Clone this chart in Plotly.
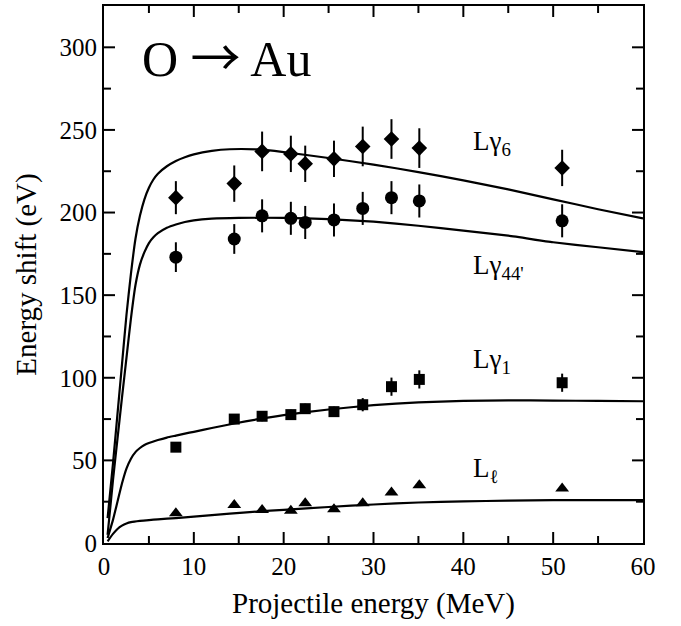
import plotly.graph_objects as go

# ---- measured data ----
energy = [8.0, 14.5, 17.6, 20.8, 22.4, 25.6, 28.8, 32.0, 35.1, 51.0]

lg6_y = [209, 217.5, 237, 235.5, 229.5, 232.5, 240, 244.5, 239, 227]
lg6_err = [10, 11, 12, 11, 11, 11, 12, 12, 12, 11]

lg44_y = [173, 184, 198, 196.5, 194, 195.5, 202.5, 209, 207, 195]
lg44_err = [9, 9, 10, 10, 10, 10, 10, 10, 10, 10]

lg1_y = [58, 75, 76.7, 77.7, 81.3, 79.5, 83.7, 94.6, 99, 97]
lg1_err = [2, 3, 3, 3, 3, 3, 4, 5.5, 5.5, 5.5]

ll_y = [18, 23, 20, 19.5, 24, 20.5, 24, 30.5, 35, 33]

# theory curves
th6_x = [0.4, 1, 1.5, 2, 2.5, 3, 3.5, 4, 4.5, 5, 5.5, 6, 7, 8, 9, 10, 12, 14, 17, 20, 25, 30, 35, 40, 45, 50, 55, 60]
th6_y = [15, 48, 78, 108, 138, 163, 184, 198, 208, 215, 220, 223.5, 228, 231.2, 233.5, 235.2, 237.3, 238.3, 238.2, 236.6, 233, 229, 224.5, 219.5, 214, 208, 202, 196.5]

th44_x = [0.4, 1, 1.5, 2, 2.5, 3, 3.5, 4, 4.5, 5, 5.5, 6, 7, 8, 9, 10, 12, 15, 20, 25, 30, 35, 40, 45, 50, 55, 60]
th44_y = [5, 38, 63, 88, 112, 136, 156, 168.5, 176, 181.5, 185, 187.5, 190.8, 192.8, 194.3, 195.3, 196.3, 196.8, 196.8, 196, 194.5, 192, 189, 186, 182, 179, 176]

th1_x = [0.4, 1, 1.5, 2, 2.5, 3, 3.5, 4, 4.5, 5, 6, 7, 8, 9, 10, 12, 14.5, 17, 20, 25, 30, 35, 40, 45, 50, 55, 60]
th1_y = [3, 14, 25, 36, 45, 51, 55, 57.5, 59.3, 60.5, 62.3, 63.8, 65, 66.2, 67.3, 69.6, 72.3, 74.8, 77.4, 80.8, 83.4, 85.1, 86, 86.3, 86.2, 86, 85.8]

thl_x = [0.4, 1, 1.5, 2, 2.5, 3, 4, 5, 6, 8, 10, 14, 17, 20, 25, 30, 35, 40, 45, 50, 55, 60]
thl_y = [1, 5.5, 8.5, 10.5, 11.8, 12.6, 13.4, 13.9, 14.3, 15.1, 16, 17.8, 19, 20.1, 21.8, 23.3, 24.5, 25.2, 25.6, 25.9, 26, 26]

# tick values
x_major = [10, 20, 30, 40, 50]
x_minor = [5, 15, 25, 35, 45, 55]
y_major = [50, 100, 150, 200, 250, 300]
y_minor = [25, 75, 125, 175, 225, 275]

FONT = "Liberation Serif, Times New Roman, Times, serif"

fig = go.Figure()

for xs, ys in [(th6_x, th6_y), (th44_x, th44_y), (th1_x, th1_y), (thl_x, thl_y)]:
    fig.add_trace(go.Scatter(x=xs, y=ys, mode="lines", line=dict(color="black", width=2.2),
                             line_shape="spline", line_smoothing=0.5,
                             hoverinfo="skip", showlegend=False))

def pts(y, err, symbol, size):
    eb = dict(type="data", array=err, visible=True, color="black", thickness=2, width=0) if err else None
    return go.Scatter(x=energy, y=y, mode="markers", showlegend=False,
                      marker=dict(symbol=symbol, size=size, color="black"),
                      error_y=eb)

fig.add_trace(pts(lg6_y, lg6_err, "diamond", 12))
fig.add_trace(pts(lg44_y, lg44_err, "circle", 13))
fig.add_trace(pts(lg1_y, lg1_err, "square", 11))
fig.add_trace(pts(ll_y, None, "triangle-up", 12))

ann_font = dict(family=FONT, size=27, color="black")
fig.add_annotation(x=4.0, y=296, showarrow=False, xanchor="left", yanchor="middle",
                   text="O <span style='font-family:Noto Sans CJK JP'>\u2192</span> Au",
                   font=dict(family=FONT, size=50, color="black"))
fig.add_annotation(x=40.9, y=242, text="L\u03b3<sub>6</sub>", showarrow=False, xanchor="left", yanchor="middle", font=ann_font)
fig.add_annotation(x=40.9, y=167, text="L\u03b3<sub>44'</sub>", showarrow=False, xanchor="left", yanchor="middle", font=ann_font)
fig.add_annotation(x=40.9, y=110, text="L\u03b3<sub>1</sub>", showarrow=False, xanchor="left", yanchor="middle", font=ann_font)
fig.add_annotation(x=40.9, y=44, text="L<sub>\u2113</sub>", showarrow=False, xanchor="left", yanchor="middle", font=ann_font)

# inward tick marks on all four sides, placed through the axes' own scales
tick_line = dict(color="black", width=2)
for vals, length in [(x_major, 11), (x_minor, 7)]:
    for v in vals:
        fig.add_shape(type="line", xref="x", x0=v, x1=v, yref="paper", ysizemode="pixel",
                      yanchor=0, y0=0, y1=length, line=tick_line)
        fig.add_shape(type="line", xref="x", x0=v, x1=v, yref="paper", ysizemode="pixel",
                      yanchor=1, y0=0, y1=-length, line=tick_line)
for vals, length in [(y_major, 11), (y_minor, 7)]:
    for v in vals:
        fig.add_shape(type="line", yref="y", y0=v, y1=v, xref="paper", xsizemode="pixel",
                      xanchor=0, x0=0, x1=length, line=tick_line)
        fig.add_shape(type="line", yref="y", y0=v, y1=v, xref="paper", xsizemode="pixel",
                      xanchor=1, x0=0, x1=-length, line=tick_line)

main_common = dict(showline=True, linecolor="black", linewidth=2, mirror=True,
                   ticks="", showgrid=False, zeroline=False,
                   tickfont=dict(family=FONT, size=25, color="black"))

fig.update_xaxes(range=[0, 60], tickmode="linear", tick0=0, dtick=10,
                 title=dict(text="Projectile energy (MeV)", font=dict(family=FONT, size=29, color="black"), standoff=14),
                 **main_common)
fig.update_yaxes(range=[0, 325], tickmode="linear", tick0=0, dtick=50,
                 title=dict(text="Energy shift (eV)", font=dict(family=FONT, size=29, color="black"), standoff=14),
                 **main_common)

fig.update_layout(width=681, height=626, margin=dict(l=104, r=38, t=4, b=83),
                  plot_bgcolor="white", paper_bgcolor="white",
                  font=dict(family=FONT, color="black"))

fig.write_html("out.html", config={"displayModeBar": False},
               post_script="document.body.style.margin='0';")
